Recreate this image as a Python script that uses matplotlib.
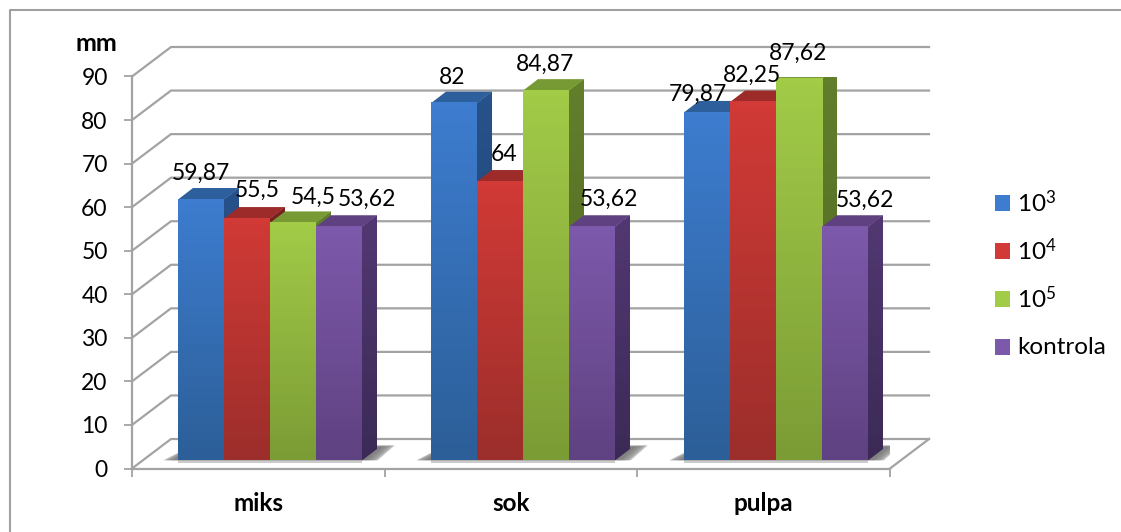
import numpy as np
import matplotlib
matplotlib.use('Agg')
import matplotlib.pyplot as plt
from matplotlib.lines import Line2D
from matplotlib.patches import Polygon, Rectangle

categories = ['miks', 'sok', 'pulpa']
legend_labels = [r'$\mathregular{10^{3}}$', r'$\mathregular{10^{4}}$', r'$\mathregular{10^{5}}$', 'kontrola']
v_1e3 = [59.87, 82, 79.87]
v_1e4 = [55.5, 64, 82.25]
v_1e5 = [54.5, 84.87, 87.62]
v_kontrola = [53.62, 53.62, 53.62]
y_ticks = list(range(0, 100, 10))

# label offsets in pixels from the middle of the bar top (dx, dy up)
label_offsets = [
    [(0, 26), (10, 28), (20, 26), (28, 27)],
    [(-2, 26), (4, 27), (-1, 26), (17, 27)],
    [(-9, 18), (-1, 27), (-1, 25), (20, 26)],
]

plt.rcParams['font.family'] = ['Lato', 'DejaVu Sans']
plt.rcParams['mathtext.fontset'] = 'custom'
plt.rcParams['mathtext.rm'] = 'Lato'

W, H = 1121, 532
fig = plt.figure(figsize=(W / 100, H / 100), dpi=100)

# plot area: front of the axis box in pixels
left, right, top, bottom = 132, 890, 76.5, 468.5
ax = fig.add_axes([left / W, 1 - bottom / H, (right - left) / W, (bottom - top) / H])
ax.set_facecolor('none')

px = 3 / (right - left)     # data units per pixel, x
py = 90 / (bottom - top)    # data units per pixel, y

gray = '#a3a3a3'
lw = 1.6
back_dx, back_dy = 39 * px, 29.5 * py

# walls
for t in y_ticks:
    ax.plot([0, back_dx, 3 + back_dx], [t, t + back_dy, t + back_dy], color=gray, lw=lw,
            clip_on=False, zorder=1, solid_joinstyle='miter')
ax.plot([3, 3 + back_dx], [0, back_dy], color=gray, lw=lw, clip_on=False, zorder=1)

for side in ['top', 'right']:
    ax.spines[side].set_visible(False)
for side in ['left', 'bottom']:
    ax.spines[side].set_color(gray)
    ax.spines[side].set_linewidth(lw)
ax.set_xticks([0, 1, 2, 3])
ax.set_xticklabels([])
ax.set_yticks(y_ticks)
ax.tick_params(axis='both', color=gray, width=1.3, length=5.5)
ax.tick_params(axis='y', labelsize=16.5, pad=12, labelcolor='black')
for i, c in enumerate(categories):
    ax.text(i + 0.5, -35 * py, c, ha='center', va='center', fontsize=17.5, fontweight='bold',
            clip_on=False)
ax.text(-35.5 * px, 90 + 33 * py, 'mm', ha='center', va='center', fontsize=18, fontweight='bold',
        clip_on=False)

# bars
front = [('#3d7ccf', '#2c5f98'), ('#d13a36', '#9c2e2b'), ('#a2cb48', '#7b9c35'), ('#7d59ab', '#5f4281')]
top_col = ['#2c5f9b', '#9c2b2a', '#779a35', '#5f4080']
side_top = ['#27528a', '#7a2220', '#637f2c', '#523872']
side_bot = ['#1f3f6a', '#5f1c1a', '#4d6322', '#3b2a56']
series = [v_1e3, v_1e4, v_1e5, v_kontrola]

bar_w = 46 * px
depth_x, depth_y = 15 * px, 11.5 * py
base = (bottom - 460.3) * py
group_start = [(178 - left) * px, (431 - left) * px, (684 - left) * px]


def vgrad(c0, c1, n=64):
    a = np.array(matplotlib.colors.to_rgb(c0))
    b = np.array(matplotlib.colors.to_rgb(c1))
    t = np.linspace(0, 1, n)[:, None]
    return (a * (1 - t) + b * t)[:, None, :]


for g in range(3):
    x0 = group_start[g]
    xe = x0 + 4 * bar_w
    # soft shadow on the floor
    for k in range(10):
        f = (k / 10) ** 2
        ax.add_patch(Polygon([(x0 - (15 - 14 * f) * px, base), (xe + (16 - 14 * f) * px, base),
                              (xe + depth_x + (18 - 16 * f) * px, base + (15 - 2 * f) * py),
                              (x0 + depth_x, base + (15 - 2 * f) * py)],
                             closed=True, fc='#444444', ec='none', alpha=0.1, zorder=2))
    ax.add_patch(Rectangle((x0, base - 2.5 * py), xe - x0, 2.5 * py, fc='#999999', ec='none',
                           alpha=0.5, zorder=2))
    for s in range(4):
        v = series[s][g]
        x = x0 + s * bar_w
        h = base + v
        ax.bar(x + bar_w / 2, v, bar_w, bottom=base, color=front[s][0], zorder=5 + s * 0.1)
        side = Polygon([(x + bar_w, base), (x + bar_w + depth_x, base + depth_y),
                        (x + bar_w + depth_x, h + depth_y), (x + bar_w, h)],
                       closed=True, fc=side_top[s], ec='none', zorder=4 + s * 0.1)
        ax.add_patch(side)
        side_img = ax.imshow(vgrad(side_top[s], side_bot[s]),
                             extent=(x + bar_w, x + bar_w + depth_x, base, h + depth_y),
                             aspect='auto', origin='upper', zorder=4.01 + s * 0.1)
        side_img.set_clip_path(side)
        ax.add_patch(Polygon([(x, h), (x + depth_x, h + depth_y),
                              (x + bar_w + depth_x, h + depth_y), (x + bar_w, h)],
                             closed=True, fc=top_col[s], ec='none', zorder=4.02 + s * 0.1))
        ax.imshow(vgrad(*front[s]), extent=(x, x + bar_w, base, h), aspect='auto',
                  origin='upper', zorder=5.05 + s * 0.1, clip_on=False)
        dx, dy = label_offsets[g][s]
        ax.text(x + bar_w / 2 + dx * px, h + dy * py, f'{v:g}'.replace('.', ','),
                ha='center', va='center', fontsize=16.5, zorder=10, clip_on=False)

ax.set_xlim(0, 3)
ax.set_ylim(0, 90)

# legend, squares and text by hand to keep the gaps of the original
legend_y = [203, 251, 299, 347]
for y, lab, cols in zip(legend_y, legend_labels, front):
    fig.add_artist(Rectangle((995 / W, 1 - (y + 8) / H), 15 / W, 16 / H, transform=fig.transFigure,
                             fc=cols[0], ec='none'))
    fig.text(1017 / W, 1 - y / H, lab, fontsize=17.5, va='center', ha='left')

# only the top and left of the outer frame are in the picture
fig.add_artist(Line2D([10 / W, 10 / W, 1], [0, 1 - 10 / H, 1 - 10 / H], transform=fig.transFigure,
                      color='#a0a0a0', lw=1.5))

fig.savefig('out.png', dpi=100)
